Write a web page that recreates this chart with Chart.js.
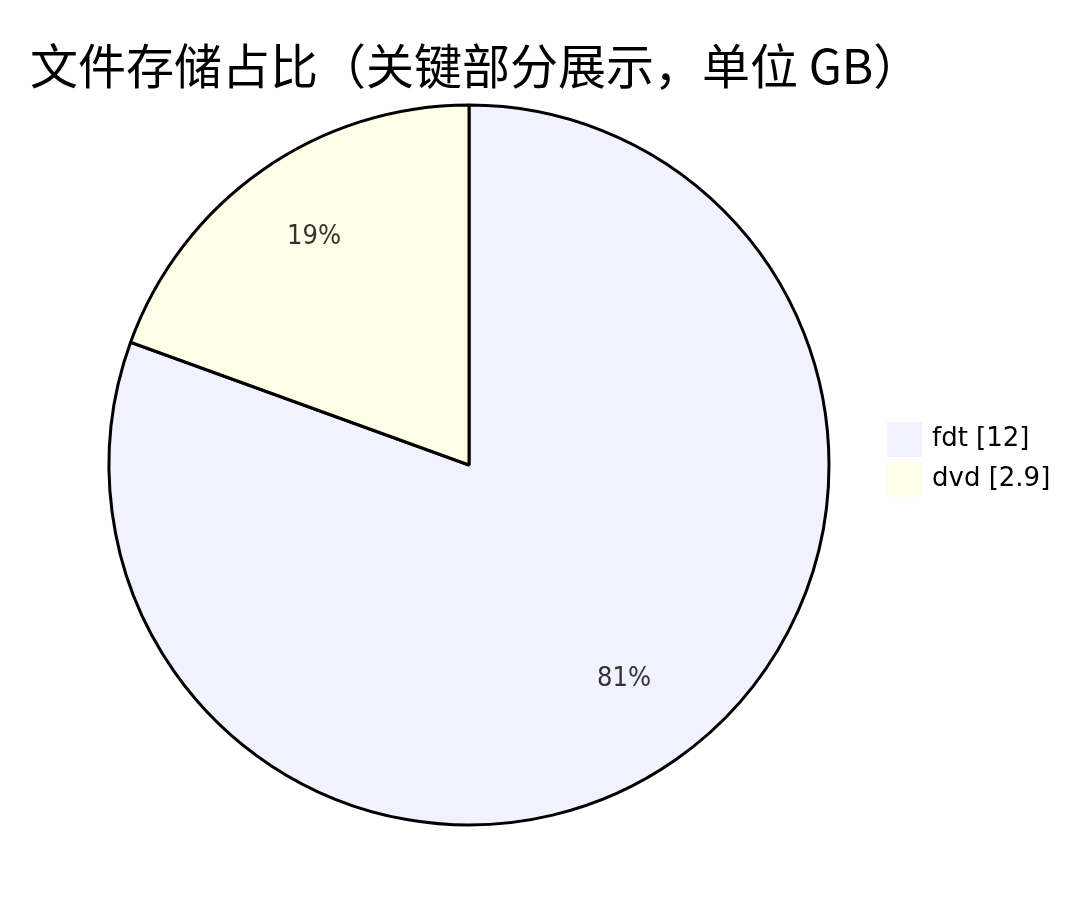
<!DOCTYPE html>
<html>
<head>
<meta charset="utf-8">
<script src="https://cdn.jsdelivr.net/npm/chart.js@4"></script>
<style>
  html, body { margin: 0; padding: 0; background: #fff; }
  canvas { display: block; }
</style>
</head>
<body>
<canvas id="pie" width="1080" height="911"></canvas>
<script>
// data
const titleText = '文件存储占比（关键部分展示，单位 GB）';
const labels = ['fdt', 'dvd'];
const values = [12, 2.9];
const colors = ['#F2F2FF', '#FFFFE8'];

// title + slice percentages + legend
const pieDecor = {
    id: 'pieDecor',
    afterDraw(chart) {
        const ctx = chart.ctx;
        const meta = chart.getDatasetMeta(0);
        const total = values.reduce((s, v) => s + v, 0);
        ctx.save();
        // title
        ctx.fillStyle = '#000';
        ctx.font = '48px "Noto Sans CJK SC", sans-serif';
        ctx.textAlign = 'left';
        ctx.textBaseline = 'alphabetic';
        ctx.fillText(titleText, 30, 84);
        // percentages
        ctx.fillStyle = '#333';
        ctx.font = '27px "DejaVu Sans Condensed", "DejaVu Sans", sans-serif';
        ctx.textAlign = 'center';
        meta.data.forEach((arc, i) => {
            const p = arc.getProps(['x', 'y', 'startAngle', 'endAngle', 'outerRadius'], true);
            const mid = (p.startAngle + p.endAngle) / 2;
            const r = p.outerRadius * 0.75;
            const pct = Math.round(values[i] / total * 100) + '%';
            ctx.fillText(pct, p.x + Math.cos(mid) * r, p.y + Math.sin(mid) * r);
        });
        // legend
        const lx = 887, ly = 422, size = 35, gap = 40;
        ctx.textAlign = 'left';
        ctx.textBaseline = 'middle';
        ctx.font = '26px "DejaVu Sans", sans-serif';
        labels.forEach((lab, i) => {
            ctx.fillStyle = colors[i];
            ctx.fillRect(lx, ly + i * gap, size, size);
            ctx.fillStyle = '#000';
            ctx.fillText(lab + ' [' + values[i] + ']', lx + size + 10, ly + i * gap + size / 2);
        });
        ctx.restore();
    }
};

new Chart(document.getElementById('pie'), {
    type: 'pie',
    data: {
        labels: labels,
        datasets: [{
            data: values,
            backgroundColor: colors,
            borderColor: '#000',
            borderWidth: 3
        }]
    },
    options: {
        responsive: false,
        animation: false,
        radius: 360,
        layout: { padding: { left: 109, right: 251, top: 105, bottom: 86 } },
        plugins: {
            legend: { display: false },
            title: { display: false },
            tooltip: { enabled: false }
        }
    },
    plugins: [pieDecor]
});
</script>
</body>
</html>
